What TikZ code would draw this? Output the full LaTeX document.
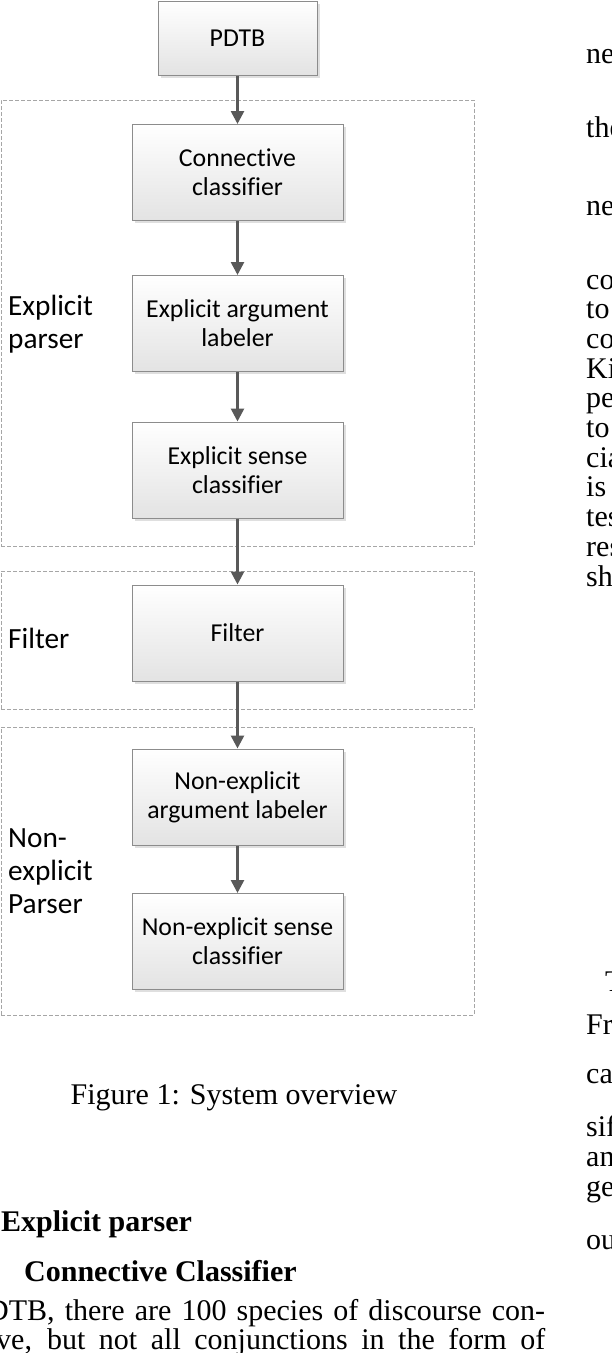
\documentclass[tikz,border=0pt]{standalone}
\usepackage{fontspec}
\setmainfont{Liberation Serif}
\newfontfamily\calib[Ligatures=NoCommon]{Carlito}
\usetikzlibrary{arrows.meta,shadows}
\definecolor{arrgray}{HTML}{595959}
\definecolor{boxline}{HTML}{8C8C8C}
\definecolor{dashgray}{HTML}{A6A6A6}
\tikzset{
  proc/.style={draw=boxline, line width=1pt, top color=white, bottom color=black!11,
    align=center, font=\calib\fontsize{25.8}{29}\selectfont, text=black,
    minimum width=211pt, minimum height=96pt, inner sep=0pt,
    drop shadow={shadow xshift=2.5pt, shadow yshift=-2.5pt, fill=black!18, opacity=0.7}},
  grp/.style={draw=dashgray, line width=0.9pt, dash pattern=on 4pt off 2pt,
    minimum width=473pt, inner sep=0pt},
  arr/.style={draw=arrgray, line width=2.6pt, -{Triangle[length=13pt,width=13pt]}},
  lbl/.style={font=\calib\fontsize{29.3}{33}\selectfont, align=left, anchor=west, inner sep=0pt},
  body/.style={font=\fontsize{30}{30}\selectfont, anchor=base west, inner sep=0pt},
  head/.style={font=\bfseries\fontsize{30}{30}\selectfont, anchor=base west, inner sep=0pt}
}
\begin{document}
\begin{tikzpicture}[x=1pt,y=-1pt]
\useasboundingbox (0,0) rectangle (612,1353);
\clip (0,0) rectangle (612,1353);
% groups
\node[grp, minimum height=446pt] (gexp) at (237.5,323) {};
\node[grp, minimum height=138pt] (gfil) at (237.5,640) {};
\node[grp, minimum height=288pt] (gnon) at (237.5,871) {};
% group labels
\node[lbl] (lexp) at (8,324) {Explicit\\parser};
\node[lbl] (lfil) at (8,638) {Filter};
\node[lbl] (lnon) at (8,871) {Non-\\explicit\\Parser};
% process boxes
\node[proc, minimum width=159pt, minimum height=74pt] (pdtb) at (237.5,38) {PDTB};
\node[proc] (conn) at (237.5,172.5) {Connective\\classifier};
\node[proc] (earg) at (237.5,323.5) {Explicit argument\\labeler};
\node[proc] (esen) at (237.5,470) {Explicit sense\\classifier};
\node[proc] (filt) at (237.5,633) {Filter};
\node[proc] (narg) at (237.5,797) {Non-explicit\\argument labeler};
\node[proc] (nsen) at (237.5,941.5) {Non-explicit sense\\classifier};
% arrows
\draw[arr] (pdtb) -- (conn);
\draw[arr] (conn) -- (earg);
\draw[arr] (earg) -- (esen);
\draw[arr] (esen) -- (filt);
\draw[arr] (filt) -- (narg);
\draw[arr] (narg) -- (nsen);
% caption and body text
\node[body, anchor=base] (cap) at (234,1104) {Figure 1: System overview};
\node[head] (h1) at (1,1231) {Explicit parser};
\node[head] (h2) at (24,1281) {Connective Classifier};
\node[body] (t1) at (-13,1320) {\makebox[558pt][s]{DTB, there are 100 species of discourse con-}};
\node[body] (t2) at (-4,1349) {\makebox[549pt][s]{ve, but not all conjunctions in the form of}};
% right column fragments
\node[body] (r1) at (586,63) {ne};
\node[body] (r2) at (586,137) {the};
\node[body] (r3) at (586,215) {ne};
\node[body] (r4) at (586,289) {co};
\node[body] (r5) at (586,318.7) {to};
\node[body] (r6) at (586,348.4) {co};
\node[body] (r7) at (586,378.1) {Ki};
\node[body] (r8) at (586,407.8) {pe};
\node[body] (r9) at (586,437.5) {to};
\node[body] (r10) at (586,467.2) {cia};
\node[body] (r11) at (586,496.9) {is};
\node[body] (r12) at (586,526.6) {tes};
\node[body] (r13) at (586,556.3) {res};
\node[body] (r14) at (586,586) {sh};
\node[body] (r15) at (605,991) {T};
\node[body] (r16) at (586,1034) {Fr};
\node[body] (r17) at (586,1083) {ca};
\node[body] (r18) at (586,1136) {sif};
\node[body] (r19) at (586,1166) {an};
\node[body] (r20) at (586,1196) {ge};
\node[body] (r21) at (586,1249) {ou};
\end{tikzpicture}
\end{document}
